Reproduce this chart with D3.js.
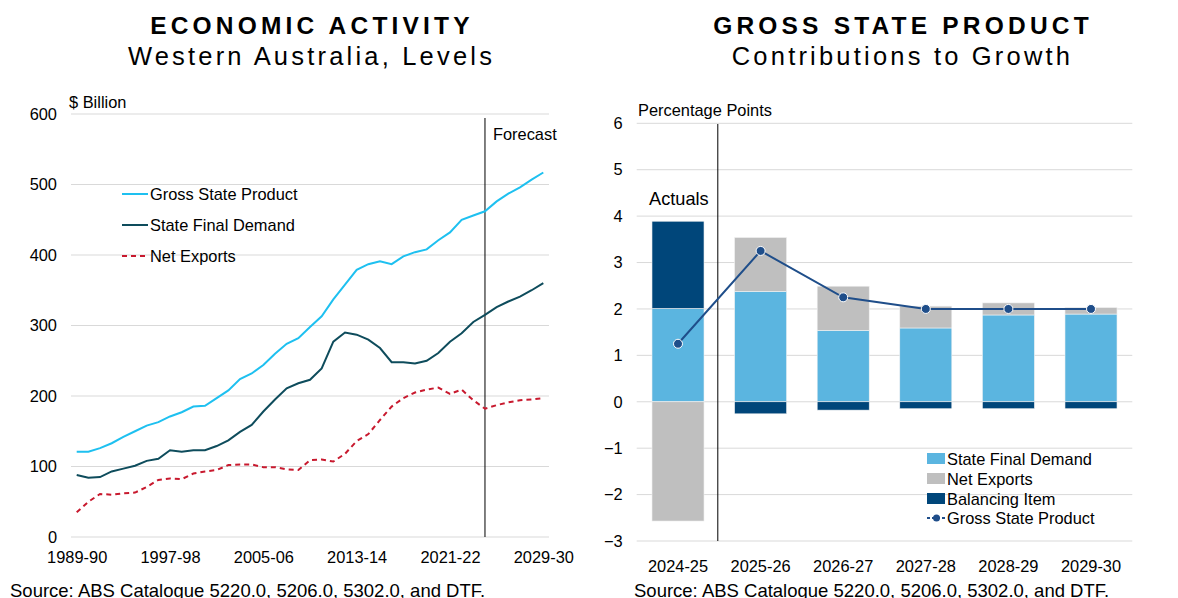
<!DOCTYPE html>
<html>
<head>
<meta charset="utf-8">
<script src="https://cdn.jsdelivr.net/npm/d3@7"></script>
<style>
  body { margin: 0; background: #fff; }
  svg { font-family: "Liberation Sans", Arial, sans-serif; }
</style>
</head>
<body>
<div id="chart"></div>
<script>
// ---- data: left panel (levels, $ billion) ----
const years = d3.range(1989, 2030).map(y => y + "-" + String((y + 1) % 100).padStart(2, "0"));
const gsp = [121, 121, 126, 133, 142, 150, 158, 163, 171, 177, 185, 186, 197, 208, 224, 232, 244, 260, 274, 282,
  298, 313, 337, 358, 379, 387, 391, 387, 398, 404, 408, 421, 432, 450, 456, 462, 476, 487, 496, 507, 517];
const sfd = [88, 84, 85, 93, 97, 101, 108, 111, 123, 121, 123, 123, 129, 137, 149, 159, 178, 195, 211, 218,
  223, 239, 277, 290, 287, 280, 268, 248, 248, 246, 250, 261, 277, 289, 305, 315, 326, 334, 341, 350, 360];
const netExports = [35, 50, 61, 60, 62, 63, 71, 81, 83, 82, 90, 93, 95, 102, 103, 103, 99, 99, 96, 95,
  109, 110, 107, 118, 136, 146, 166, 185, 197, 205, 209, 212, 203, 209, 194, 182, 187, 191, 194, 195, 197];
const leftTicks = [0, 100, 200, 300, 400, 500, 600];
const leftLabelYears = ["1989-90", "1997-98", "2005-06", "2013-14", "2021-22", "2029-30"];
const forecastStart = "2024-25";

// ---- data: right panel (contributions, percentage points) ----
const fyears = ["2024-25", "2025-26", "2026-27", "2027-28", "2028-29", "2029-30"];
const sfdContrib = [2.01, 2.38, 1.54, 1.59, 1.87, 1.89];
const nxContrib = [-2.57, 1.16, 0.95, 0.47, 0.26, 0.14];
const balContrib = [1.88, -0.26, -0.18, -0.15, -0.15, -0.15];
const gspGrowth = [1.25, 3.25, 2.25, 2.0, 2.0, 2.0];
const rightTicks = [-3, -2, -1, 0, 1, 2, 3, 4, 5, 6];

const W = 1178, H = 598;
const fs = 16.4;
const svg = d3.select("#chart").append("svg").attr("width", W).attr("height", H);
const grid = "#d9d9d9";

function titles(cx, t1, t2) {
  svg.append("text").attr("x", cx + 2).attr("y", 34).attr("text-anchor", "middle")
    .attr("font-size", 24.5).attr("font-weight", "bold").attr("letter-spacing", 4.2).text(t1);
  svg.append("text").attr("x", cx + 1.5).attr("y", 65).attr("text-anchor", "middle")
    .attr("font-size", 25.5).attr("letter-spacing", 3.2).text(t2);
}
titles(310, "ECONOMIC ACTIVITY", "Western Australia, Levels");
titles(901, "GROSS STATE PRODUCT", "Contributions to Growth");

function styleTicks(ax) {
  ax.select(".domain").remove();
  ax.selectAll("text").attr("font-size", fs).attr("fill", "#000")
    .attr("font-family", "Liberation Sans, Arial, sans-serif");
}

// ================= left chart =================
const xL = d3.scalePoint().domain(years).range([76.7, 543.3]);
const yL = d3.scaleLinear().domain([0, 600]).range([537, 114]);
const gL = svg.append("g");

gL.selectAll(".gl").data(leftTicks).enter().append("line")
  .attr("x1", 71).attr("x2", 549).attr("y1", d => yL(d)).attr("y2", d => yL(d))
  .attr("stroke", grid).attr("stroke-width", 1);

styleTicks(gL.append("g").attr("transform", "translate(71,0)")
  .call(d3.axisLeft(yL).tickValues(leftTicks).tickSize(0).tickPadding(14)));
styleTicks(gL.append("g").attr("transform", "translate(0,537)")
  .call(d3.axisBottom(xL).tickValues(leftLabelYears).tickSize(0).tickPadding(14)));

gL.append("text").attr("x", 69).attr("y", 108).attr("font-size", fs).text("$ Billion");

// forecast divider
gL.append("line").attr("x1", xL(forecastStart)).attr("x2", xL(forecastStart))
  .attr("y1", 118).attr("y2", 537).attr("stroke", "#000").attr("stroke-width", 1);
gL.append("text").attr("x", xL(forecastStart) + 8).attr("y", 140).attr("font-size", fs).text("Forecast");

const lineL = d3.line().x((d, i) => xL(years[i])).y(d => yL(d));
const seriesL = [
  { name: "Gross State Product", data: gsp, color: "#1ec0f0", dash: null },
  { name: "State Final Demand", data: sfd, color: "#0e4c5c", dash: null },
  { name: "Net Exports", data: netExports, color: "#c8192e", dash: "5,4" }
];
seriesL.forEach(s => {
  gL.append("path").datum(s.data).attr("d", lineL).attr("fill", "none")
    .attr("stroke", s.color).attr("stroke-width", 2).attr("stroke-dasharray", s.dash);
});

const legL = gL.selectAll(".legL").data(seriesL).enter().append("g")
  .attr("transform", (d, i) => `translate(122,${194 + i * 31})`);
legL.append("line").attr("x1", 0).attr("x2", 26).attr("y1", 0).attr("y2", 0)
  .attr("stroke", d => d.color).attr("stroke-width", 2).attr("stroke-dasharray", d => d.dash);
legL.append("text").attr("x", 28).attr("y", 6).attr("font-size", fs).text(d => d.name);

svg.append("text").attr("x", 10).attr("y", 597).attr("font-size", 18.5)
  .text("Source: ABS Catalogue 5220.0, 5206.0, 5302.0, and DTF.");

// ================= right chart =================
const xR = d3.scaleBand().domain(fyears).range([636.7, 1132.3]).paddingInner(0.37).paddingOuter(0.185);
const yR = d3.scaleLinear().domain([-3, 6]).range([541, 123.3]);
const gR = svg.append("g");

gR.selectAll(".gr").data(rightTicks).enter().append("line")
  .attr("x1", 636.7).attr("x2", 1132.3).attr("y1", d => yR(d)).attr("y2", d => yR(d))
  .attr("stroke", grid).attr("stroke-width", 1);

styleTicks(gR.append("g").attr("transform", "translate(636.7,0)")
  .call(d3.axisLeft(yR).tickValues(rightTicks).tickSize(0).tickPadding(14)));
styleTicks(gR.append("g").attr("transform", "translate(0,541)")
  .call(d3.axisBottom(xR).tickSize(0).tickPadding(19)));

gR.append("text").attr("x", 638).attr("y", 116).attr("font-size", fs).text("Percentage Points");

// stacked bars: positives stack upward from 0, negatives downward
const barSeries = [
  { name: "State Final Demand", data: sfdContrib, color: "#5bb5e0" },
  { name: "Net Exports", data: nxContrib, color: "#bfbfbf" },
  { name: "Balancing Item", data: balContrib, color: "#00467a" }
];
fyears.forEach((yr, i) => {
  let pos = 0, neg = 0;
  barSeries.forEach(s => {
    const v = s.data[i];
    let y0, y1;
    if (v >= 0) { y0 = pos; y1 = pos + v; pos = y1; }
    else { y0 = neg; y1 = neg + v; neg = y1; }
    gR.append("rect").attr("x", xR(yr)).attr("width", xR.bandwidth())
      .attr("y", yR(Math.max(y0, y1))).attr("height", Math.abs(yR(y0) - yR(y1)))
      .attr("fill", s.color).attr("stroke", "#f2f2f2").attr("stroke-width", 0.6);
  });
});

// actual / forecast divider
const divX = xR(fyears[1]) - xR.step() * xR.paddingInner() / 2 - 1.5;
gR.append("line").attr("x1", divX).attr("x2", divX).attr("y1", 124).attr("y2", 541)
  .attr("stroke", "#000").attr("stroke-width", 1);
gR.append("text").attr("x", 649).attr("y", 205).attr("font-size", 18.2).text("Actuals");

const lineR = d3.line().x((d, i) => xR(fyears[i]) + xR.bandwidth() / 2).y(d => yR(d));
gR.append("path").datum(gspGrowth).attr("d", lineR).attr("fill", "none")
  .attr("stroke", "#1f4e8a").attr("stroke-width", 2);
gR.selectAll(".dot").data(gspGrowth).enter().append("circle")
  .attr("cx", (d, i) => xR(fyears[i]) + xR.bandwidth() / 2).attr("cy", d => yR(d)).attr("r", 4.5)
  .attr("fill", "#1f4e8a").attr("stroke", "#fff").attr("stroke-width", 1);

// legend
const legR = gR.selectAll(".legR").data(barSeries).enter().append("g")
  .attr("transform", (d, i) => `translate(927,${459 + i * 20})`);
legR.append("rect").attr("x", 0).attr("y", -6).attr("width", 18).attr("height", 11).attr("fill", d => d.color);
legR.append("text").attr("x", 20).attr("y", 6).attr("font-size", fs).text(d => d.name);
const legG = gR.append("g").attr("transform", "translate(927,518)");
legG.append("line").attr("x1", 0).attr("x2", 19).attr("stroke", "#1f4e8a").attr("stroke-width", 2).attr("stroke-dasharray", "3,2");
legG.append("circle").attr("cx", 9.5).attr("cy", 0).attr("r", 3.5).attr("fill", "#1f4e8a");
legG.append("text").attr("x", 20).attr("y", 6).attr("font-size", fs).text("Gross State Product");

svg.append("text").attr("x", 634).attr("y", 597).attr("font-size", 18.5)
  .text("Source: ABS Catalogue 5220.0, 5206.0, 5302.0, and DTF.");
</script>
</body>
</html>
